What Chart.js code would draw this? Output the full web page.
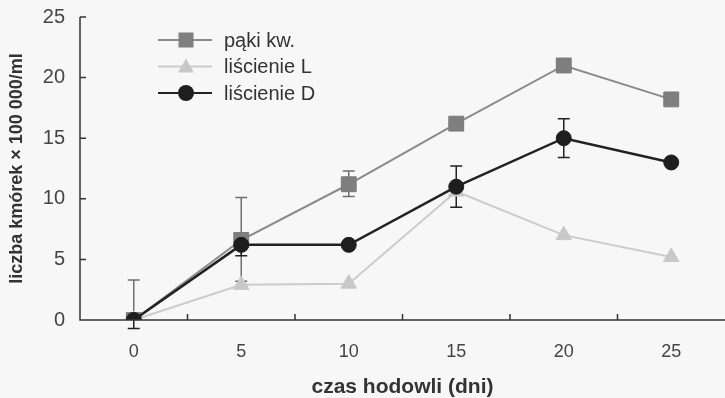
<!DOCTYPE html>
<html>
<head>
<meta charset="utf-8">
<script src="https://cdn.jsdelivr.net/npm/chart.js@4.4.0/dist/chart.umd.min.js"></script>
<style>
    html, body { margin: 0; padding: 0; background: #f7f7f7; overflow: hidden; }
    #wrap { width: 725px; height: 398px; position: relative; }
</style>
</head>
<body>
<div id="wrap"><canvas id="cellChart"></canvas></div>
<script>
// dni hodowli
const days = ['0', '5', '10', '15', '20', '25'];
const yTicks = [0, 5, 10, 15, 20, 25];

const seriesNames = ['pąki kw.', 'liścienie L', 'liścienie D'];
const pakiValues = [0, 6.6, 11.2, 16.2, 21.0, 18.2];
const lisLValues = [0, 2.9, 3.0, 10.6, 7.0, 5.2];
const lisDValues = [0, 6.2, 6.2, 11.0, 15.0, 13.0];

// slupki bledow (w gore / w dol)
const pakiErrUp = [3.3, 3.5, 1.1, 0, 0, 0];
const pakiErrDown = [0, 3.4, 1.0, 0, 0, 0];
const lisDErrUp = [0, 0.9, 0, 1.7, 1.6, 0];
const lisDErrDown = [0.7, 0.9, 0, 1.7, 1.6, 0];

const fontName = '"Liberation Sans", Arial, sans-serif';

const errorBars = {
    id: 'errorBars',
    beforeDatasetsDraw(chart) {
        const ctx = chart.ctx;
        const xs = chart.scales.x;
        const ys = chart.scales.y;
        const sets = [
            { vals: pakiValues, up: pakiErrUp, down: pakiErrDown, color: '#6f6f6f' },
            { vals: lisDValues, up: lisDErrUp, down: lisDErrDown, color: '#222222' }
        ];
        ctx.save();
        ctx.lineWidth = 1.5;
        sets.forEach(s => {
            ctx.strokeStyle = s.color;
            s.vals.forEach((v, i) => {
                if (!s.up[i] && !s.down[i]) return;
                const x = xs.getPixelForValue(i);
                const yTop = ys.getPixelForValue(v + s.up[i]);
                const yBot = ys.getPixelForValue(v - s.down[i]);
                ctx.beginPath();
                ctx.moveTo(x, yTop);
                ctx.lineTo(x, yBot);
                if (s.up[i]) { ctx.moveTo(x - 6, yTop); ctx.lineTo(x + 6, yTop); }
                if (s.down[i]) { ctx.moveTo(x - 6, yBot); ctx.lineTo(x + 6, yBot); }
                ctx.stroke();
            });
        });
        ctx.restore();
    }
};

const axisTicks = {
    id: 'axisTicks',
    afterDraw(chart) {
        const ctx = chart.ctx;
        const xs = chart.scales.x;
        const ys = chart.scales.y;
        const area = chart.chartArea;
        ctx.save();
        ctx.strokeStyle = '#333';
        ctx.lineWidth = 1.5;
        ctx.beginPath();
        ctx.moveTo(area.left, area.top);
        ctx.lineTo(area.left, area.bottom);
        ctx.lineTo(area.right, area.bottom);
        ys.ticks.forEach(t => {
            const y = ys.getPixelForValue(t.value);
            ctx.moveTo(area.left, y);
            ctx.lineTo(area.left + 6, y);
        });
        for (let i = 0; i < days.length - 1; i++) {
            const x = (xs.getPixelForValue(i) + xs.getPixelForValue(i + 1)) / 2;
            ctx.moveTo(x, area.bottom);
            ctx.lineTo(x, area.bottom - 6);
        }
        ctx.stroke();

        // legenda
        const rows = [
            { name: seriesNames[0], line: '#8a8a8a', fill: '#7f7f7f', shape: 'rect' },
            { name: seriesNames[1], line: '#cccccc', fill: '#c8c8c8', shape: 'triangle' },
            { name: seriesNames[2], line: '#222222', fill: '#1e1e1e', shape: 'circle' }
        ];
        ctx.font = '20px ' + fontName;
        ctx.textBaseline = 'middle';
        rows.forEach((r, k) => {
            const y = 40 + k * 26.5;
            ctx.strokeStyle = r.line;
            ctx.lineWidth = 2;
            ctx.beginPath();
            ctx.moveTo(158, y);
            ctx.lineTo(212, y);
            ctx.stroke();
            ctx.fillStyle = r.fill;
            ctx.beginPath();
            if (r.shape === 'rect') {
                ctx.rect(178.5, y - 7.5, 15, 15);
            } else if (r.shape === 'triangle') {
                ctx.moveTo(186, y - 8);
                ctx.lineTo(194, y + 6);
                ctx.lineTo(178, y + 6);
                ctx.closePath();
            } else {
                ctx.arc(186, y, 8, 0, Math.PI * 2);
            }
            ctx.fill();
            ctx.fillStyle = '#333';
            ctx.fillText(r.name, 224, y + 1);
        });
        ctx.restore();
    }
};

const chart = new Chart(document.getElementById('cellChart'), {
    type: 'line',
    data: {
        labels: days,
        datasets: [
            {
                label: seriesNames[0],
                data: pakiValues,
                borderColor: '#8a8a8a',
                backgroundColor: '#7f7f7f',
                borderWidth: 2,
                pointStyle: 'rect',
                pointRadius: 10.5,
                pointBorderColor: '#7a7a7a',
                pointBorderWidth: 1,
                order: 2
            },
            {
                label: seriesNames[1],
                data: lisLValues,
                borderColor: '#cccccc',
                backgroundColor: '#c8c8c8',
                borderWidth: 2,
                pointStyle: 'triangle',
                pointRadius: 9,
                pointBorderColor: '#c8c8c8',
                pointBorderWidth: 1,
                order: 3
            },
            {
                label: seriesNames[2],
                data: lisDValues,
                borderColor: '#222222',
                backgroundColor: '#1e1e1e',
                borderWidth: 2.5,
                pointStyle: 'circle',
                pointRadius: 7.5,
                pointBorderColor: '#1e1e1e',
                pointBorderWidth: 1,
                order: 1
            }
        ]
    },
    options: {
        responsive: true,
        maintainAspectRatio: false,
        animation: false,
        layout: { autoPadding: false, padding: { top: 17, right: 0, bottom: 0, left: 4 } },
        plugins: {
            legend: { display: false },
            tooltip: { enabled: false }
        },
        scales: {
            x: {
                type: 'category',
                offset: true,
                grid: { display: false, drawTicks: false },
                border: { display: false },
                ticks: { color: '#444', font: { family: fontName, size: 18 }, padding: 21 },
                title: {
                    display: true,
                    text: 'czas hodowli (dni)',
                    color: '#333',
                    font: { family: fontName, size: 21, weight: 'bold', lineHeight: 1 },
                    padding: { top: 10, bottom: 0 }
                },
                afterFit(scale) {
                    scale.height = 78;
                    scale.paddingLeft = 0;
                    scale.paddingRight = 0;
                }
            },
            y: {
                min: 0,
                max: 25,
                afterBuildTicks(scale) { scale.ticks = yTicks.map(v => ({ value: v })); },
                grid: { display: false, drawTicks: false },
                border: { display: false },
                ticks: { color: '#444', font: { family: fontName, size: 20 }, padding: 15 },
                title: {
                    display: true,
                    text: 'liczba kmórek × 100 000/ml',
                    color: '#333',
                    font: { family: fontName, size: 18, weight: 'bold' },
                    padding: { top: 2, bottom: 8 }
                },
                afterFit(scale) {
                    scale.width = 76;
                    scale.paddingTop = 0;
                    scale.paddingBottom = 0;
                }
            }
        }
    },
    plugins: [errorBars, axisTicks]
});
</script>
</body>
</html>
